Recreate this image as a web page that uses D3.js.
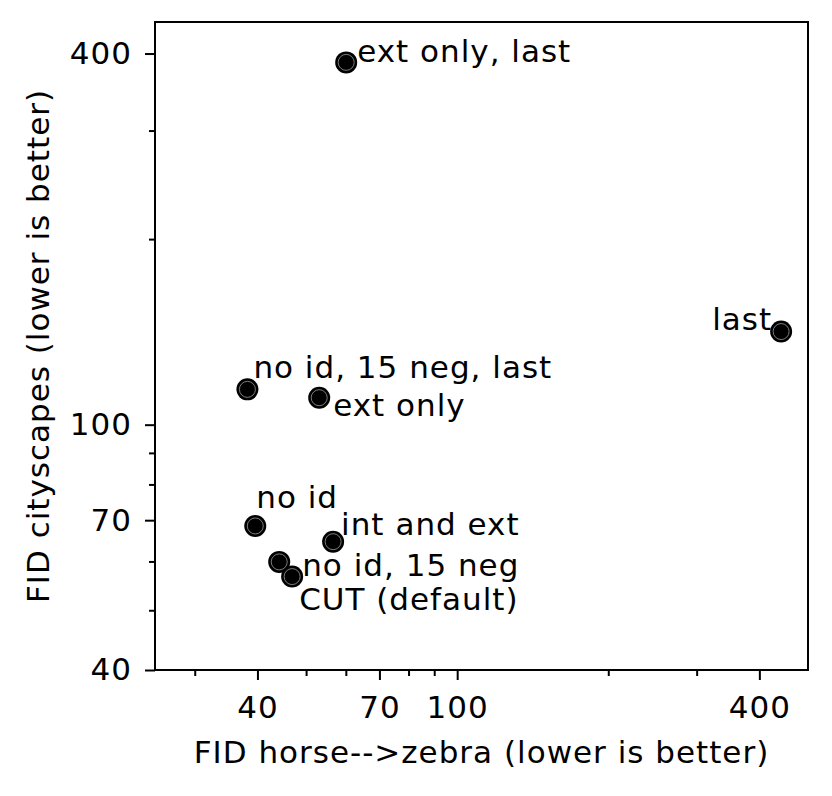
<!DOCTYPE html>
<html>
<head>
<meta charset="utf-8">
<script src="https://cdn.jsdelivr.net/npm/d3@7"></script>
<style>
  html, body { margin: 0; padding: 0; background: #fff; }
  svg text { font-family: "DejaVu Sans", sans-serif; font-size: 31px; letter-spacing: 1px; fill: #000; }
</style>
</head>
<body>
<svg id="chart" width="832" height="796"></svg>
<script>
// ---- data ----
const labels = ["ext only, last", "last", "no id, 15 neg, last", "ext only", "no id", "int and ext", "no id, 15 neg", "CUT (default)"];
const fidHorseZebra = [60.1, 442, 38.2, 53.1, 39.6, 56.6, 44.2, 46.9];
const fidCityscapes = [387, 141.6, 114.1, 110.6, 68.5, 64.6, 59.9, 56.7];
const xMajorTicks = [40, 70, 100, 400];
const xMinorTicks = [30, 50, 60, 80, 90, 200, 300];
const yMajorTicks = [40, 70, 100, 400];
const yMinorTicks = [50, 60, 80, 90, 200, 300];
const xTitle = "FID horse-->zebra (lower is better)";
const yTitle = "FID cityscapes (lower is better)";

// ---- layout (annotation offsets in px, anchor) ----
const labelOffsets = [
  {dx: 11, dy: 0, anchor: "start"},
  {dx: -9, dy: -2, anchor: "end"},
  {dx: 6, dy: -11, anchor: "start"},
  {dx: 14, dy: 18, anchor: "start"},
  {dx: 1, dy: -18, anchor: "start"},
  {dx: 8, dy: -7, anchor: "start"},
  {dx: 23, dy: 14, anchor: "start"},
  {dx: 7, dy: 33, anchor: "start"}
];

const svg = d3.select("#chart");
const mLeft = 155, mRight = 808, mTop = 22, mBottom = 670;

const x = d3.scaleLog().domain([25, 500]).range([mLeft, mRight]);
const y = d3.scaleLog().domain([40, 450]).range([mBottom, mTop]);

// x axis
const gx = svg.append("g").attr("transform", `translate(0,${mBottom})`);
gx.call(d3.axisBottom(x).tickValues(xMajorTicks).tickFormat(d3.format("d")).tickSize(10).tickPadding(16));
const gxm = svg.append("g").attr("transform", `translate(0,${mBottom})`);
gxm.call(d3.axisBottom(x).tickValues(xMinorTicks).tickFormat("").tickSize(6));

// y axis
const gy = svg.append("g").attr("transform", `translate(${mLeft},0)`);
gy.call(d3.axisLeft(y).tickValues(yMajorTicks).tickFormat(d3.format("d")).tickSize(10).tickPadding(13));
const gym = svg.append("g").attr("transform", `translate(${mLeft},0)`);
gym.call(d3.axisLeft(y).tickValues(yMinorTicks).tickFormat("").tickSize(6));

svg.selectAll(".domain").remove();
svg.selectAll(".tick line").attr("stroke", "#000").attr("stroke-width", 2);
[gx, gxm, gy, gym].forEach(g => g.attr("font-family", null).attr("font-size", null));

// frame
svg.append("rect")
  .attr("x", mLeft).attr("y", mTop)
  .attr("width", mRight - mLeft).attr("height", mBottom - mTop)
  .attr("fill", "none").attr("stroke", "#000").attr("stroke-width", 2);

// axis titles
svg.append("text")
  .attr("x", (mLeft + mRight) / 2).attr("y", 763)
  .attr("text-anchor", "middle")
  .text(xTitle);
svg.append("text")
  .attr("transform", `translate(49,${(mTop + mBottom) / 2}) rotate(-90)`)
  .attr("text-anchor", "middle")
  .text(yTitle);

// points
const data = labels.map((l, i) => ({label: l, xv: fidHorseZebra[i], yv: fidCityscapes[i], off: labelOffsets[i]}));
const pts = svg.append("g");
pts.selectAll("circle.outer").data(data).join("circle")
  .attr("class", "outer")
  .attr("cx", d => x(d.xv)).attr("cy", d => y(d.yv))
  .attr("r", 11).attr("fill", "#000");
pts.selectAll("circle.inner").data(data).join("circle")
  .attr("class", "inner")
  .attr("cx", d => x(d.xv)).attr("cy", d => y(d.yv))
  .attr("r", 8).attr("fill", "none").attr("stroke", "#9a9a9a").attr("stroke-width", 0.8);

// annotations
svg.append("g").selectAll("text").data(data).join("text")
  .attr("x", d => x(d.xv) + d.off.dx)
  .attr("y", d => y(d.yv) + d.off.dy)
  .attr("text-anchor", d => d.off.anchor)
  .text(d => d.label);
</script>
</body>
</html>
